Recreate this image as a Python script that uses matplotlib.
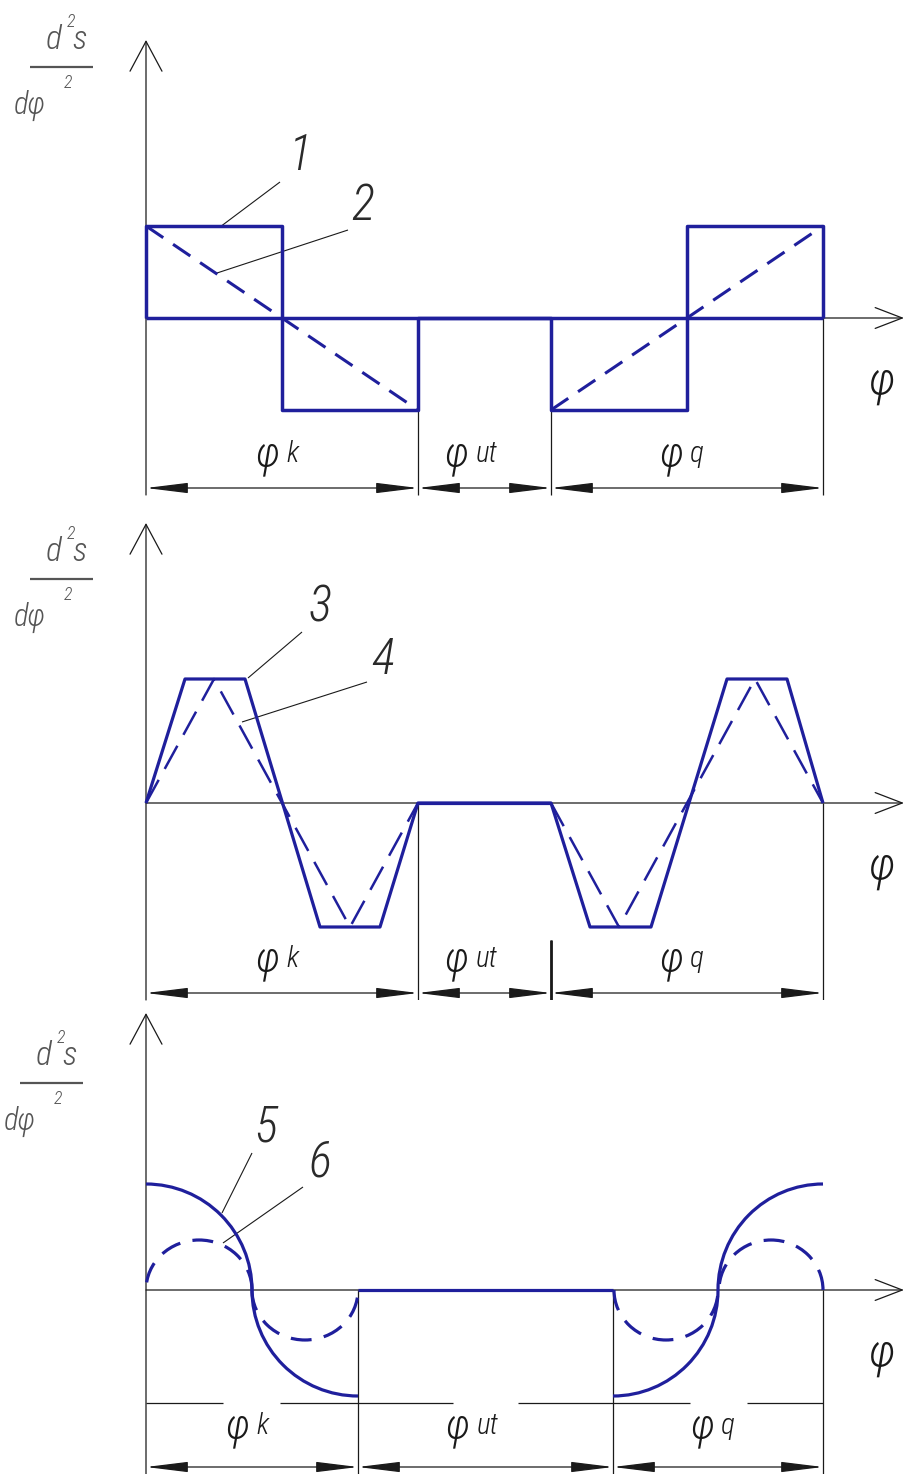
import os
import numpy as np
import matplotlib.pyplot as plt
from matplotlib import font_manager
from matplotlib.font_manager import FontProperties
from matplotlib.patches import Arc

plt.rcParams['lines.scale_dashes'] = False
plt.rcParams['lines.solid_capstyle'] = 'butt'

# thin italic lettering, narrow if possible
files = {os.path.basename(f.fname): f.fname for f in font_manager.fontManager.ttflist}
light_pref = ['RobotoCondensed-LightItalic.ttf', 'Roboto-LightItalic.ttf',
              'OpenSans-LightItalic.ttf', 'Lato-LightItalic.ttf',
              'LiberationSansNarrow-Italic.ttf', 'DejaVuSansCondensed-Oblique.ttf']
FONT_FILE = next((files[n] for n in light_pref if n in files), None)

BLUE = '#1f1f9c'
INK = '#1a1a1a'
GREY = '#555555'

# phase boundaries along phi: start, end of phi_k, end of phi_ut, end of phi_q
bounds_1 = [0, 272, 405, 677]
bounds_2 = [0, 272, 405, 677]
bounds_3 = [0, 212, 467, 677]
phase_names = ['k', 'ut', 'q']

# graph 1: constant acceleration (1), linear acceleration (2)
step_x_1 = [0, 0, 136, 272, 405, 541, 677, 677]
step_y_1 = [0, 92, -92, 0, -92, 92, 92, 0]
lin_x_2 = [0, 272, np.nan, 405, 677]
lin_y_2 = [92, -92, np.nan, -92, 92]

# graph 2: trapezoidal acceleration (3), triangular acceleration (4)
trap_x_3 = [0, 39, 99, 174, 234, 272, 405, 444, 505, 581, 641, 677]
trap_y_3 = [0, 124, 124, -124, -124, 0, 0, -124, -124, 124, 124, 0]
tri_x_4 = [0, 68, 136, 204, 272, np.nan, 405, 473, 541, 609, 677]
tri_y_4 = [0, 124, 0, -124, 0, np.nan, 0, -124, 0, 124, 0]

# graph 3: quarter arcs (5) and half arcs (6)
arc_cx_5 = [0, 212, 467, 677]
arc_from_5 = [0, 180, 270, 90]
arc_to_5 = [90, 270, 360, 180]
arc_rx_5 = [106, 106, 105, 105]
arc_ry_5 = 106
arc_cx_6 = [53, 159, 520, 625]
arc_from_6 = [0, 180, 180, 0]
arc_to_6 = [180, 360, 360, 180]
arc_rx_6 = [53, 53, 52, 52]
arc_ry_6 = 50

fig = plt.figure(figsize=(9.04, 14.74), dpi=100)
fig.patch.set_facecolor('white')
H = 1474.0


def make_panel(top, bottom, axis_y):
    ax = fig.add_axes([0, 1 - bottom / H, 1, (bottom - top) / H])
    ax.set_xlim(-146, 758)
    ax.set_ylim(axis_y - bottom, axis_y - top)
    ax.axis('off')
    return ax


def txt(ax, x, y, s, size, color=INK, **kw):
    if FONT_FILE:
        fp = FontProperties(fname=FONT_FILE, size=size)
    else:
        fp = FontProperties(family='DejaVu Sans', style='italic', size=size)
    ax.text(x, y, s, fontproperties=fp, color=color, **kw)


def draw_axes(ax, y_low, y_high, x_end):
    ax.annotate('', xy=(0, y_high), xytext=(0, y_low),
                arrowprops=dict(arrowstyle='->,head_length=2.15,head_width=1.15', lw=0.9,
                                color=INK, shrinkA=0, shrinkB=0, mutation_scale=10))
    ax.annotate('', xy=(x_end, 0), xytext=(0, 0),
                arrowprops=dict(arrowstyle='->,head_length=1.95,head_width=0.75', lw=0.9,
                                color=INK, shrinkA=0, shrinkB=0, mutation_scale=10))
    txt(ax, x_end - 23, -65, 'φ', 33, ha='center', va='center')


def ylabel(ax, x0, y):
    ax.plot([x0, x0 + 63], [y, y], color=GREY, lw=1.6, solid_capstyle='butt')
    txt(ax, x0 + 24, y + 11, 'd', 24, GREY, ha='center', va='bottom')
    txt(ax, x0 + 41, y + 36, '2', 13, GREY, ha='center', va='bottom')
    txt(ax, x0 + 50, y + 11, 's', 24, GREY, ha='center', va='bottom')
    txt(ax, x0 - 16, y - 47, 'dφ', 22, GREY, ha='left', va='baseline')
    txt(ax, x0 + 38, y - 7, '2', 13, GREY, ha='center', va='top')


def dimensions(ax, bounds, y_dim, ext_from, ext_to, y_base):
    for x, y0 in zip(bounds[1:], ext_from):
        ax.plot([x, x], [y0, ext_to], color=INK, lw=0.9)
    for a, b in zip(bounds[:-1], bounds[1:]):
        ax.annotate('', xy=(b, y_dim), xytext=(a, y_dim),
                    arrowprops=dict(arrowstyle='<|-|>,head_length=2.6,head_width=0.32', lw=0.9,
                                    color=INK, shrinkA=0, shrinkB=0, mutation_scale=10))
    for a, b, name, dx in zip(bounds[:-1], bounds[1:], phase_names, [-3, -16, -4]):
        mid = (a + b) / 2 + dx
        txt(ax, mid, y_base, 'φ', 30, ha='right', va='baseline')
        txt(ax, mid + 7, y_base + 3, name, 21, ha='left', va='baseline')


def callout(ax, label, pos, start, end):
    ax.plot([start[0], end[0]], [start[1], end[1]], color=INK, lw=0.8)
    txt(ax, pos[0], pos[1], label, 35, '#2a2a2a', ha='center', va='center')


# --- graph 1 ---
ax1 = make_panel(0, 500, 318)
draw_axes(ax1, -177, 278, 758)
ylabel(ax1, -116, 251)
dimensions(ax1, bounds_1, -170, [-92, -92, 0], -177, -147)
ax1.plot([bounds_1[0], bounds_1[-1]], [0, 0], color=BLUE, lw=2.5, zorder=3)
ax1.step(step_x_1, step_y_1, where='post', color=BLUE, lw=2.5, zorder=3)
ax1.plot(lin_x_2, lin_y_2, color=BLUE, lw=2.2, ls=(0, (15, 8.5)), zorder=3)
callout(ax1, '1', (154, 161), (134, 136), (74, 91))
callout(ax1, '2', (217, 111), (202, 88), (71, 45))

# --- graph 2 ---
ax2 = make_panel(500, 1000, 803)
draw_axes(ax2, -197, 280, 758)
ylabel(ax2, -116, 224)
dimensions(ax2, bounds_2, -190, [0, -137, 0], -197, -167)
ax2.plot([bounds_2[1], bounds_2[2]], [0, 0], color=BLUE, lw=2.3, zorder=3)
ax2.plot(trap_x_3, trap_y_3, color=BLUE, lw=2.3, zorder=3)
ax2.plot(tri_x_4, tri_y_4, color=BLUE, lw=1.8, ls=(0, (19, 9)), zorder=3)
ax2.plot([bounds_2[2], bounds_2[2]], [-137, -197], color=INK, lw=2.0)
callout(ax2, '3', (174, 195), (156, 171), (102, 125))
callout(ax2, '4', (237, 142), (221, 121), (96, 81))

# --- graph 3 ---
ax3 = make_panel(1000, 1474, 1290)
draw_axes(ax3, -184, 277, 758)
ylabel(ax3, -126, 207)
dimensions(ax3, bounds_3, -177, [0, 0, 0], -184, -147)
for a, b in [(0, 77), (134, 307), (372, 544), (601, 677)]:
    ax3.plot([a, b], [-113, -113], color=INK, lw=0.9)
ax3.plot([bounds_3[1], bounds_3[2]], [0, 0], color=BLUE, lw=2.3, zorder=3)
for cx, t1, t2, rx in zip(arc_cx_5, arc_from_5, arc_to_5, arc_rx_5):
    ax3.add_patch(Arc((cx, 0), 2 * rx, 2 * arc_ry_5, theta1=t1, theta2=t2,
                      color=BLUE, lw=2.3, zorder=3))
for cx, t1, t2, rx in zip(arc_cx_6, arc_from_6, arc_to_6, arc_rx_6):
    ax3.add_patch(Arc((cx, 0), 2 * rx, 2 * arc_ry_6, theta1=t1, theta2=t2,
                      color=BLUE, lw=2.3, ls=(0, (15, 9)), zorder=3))
callout(ax3, '5', (120, 162), (106, 137), (76, 77))
callout(ax3, '6', (174, 127), (157, 103), (77, 47))

fig.savefig('out.png', dpi=100, facecolor='white')
